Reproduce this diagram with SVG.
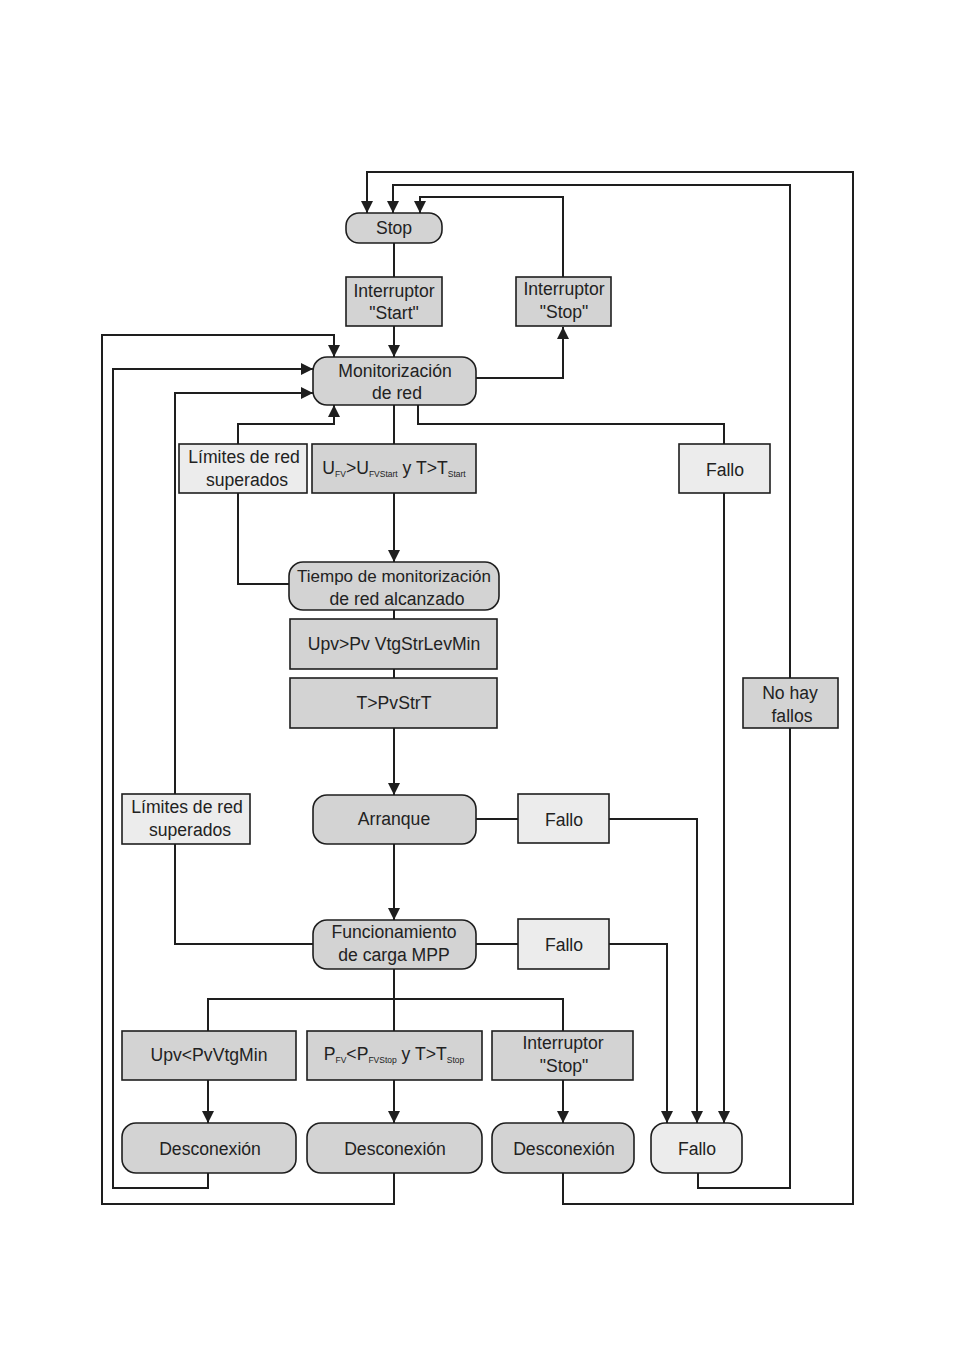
<svg xmlns="http://www.w3.org/2000/svg" width="954" height="1351" viewBox="0 0 954 1351">
<style>
.c{fill:none;stroke:#1e1e1e;stroke-width:2}
.d{fill:#d3d3d3;stroke:#1e1e1e;stroke-width:1.6}
.l{fill:#ececec;stroke:#1e1e1e;stroke-width:1.6}
text{font-family:"Liberation Sans",Arial,sans-serif;font-size:17.6px;fill:#222;text-anchor:middle}
.s{font-size:8.5px}
.n{font-size:17px}
</style>
<defs>
<marker id="a" markerUnits="userSpaceOnUse" markerWidth="12" markerHeight="12" viewBox="0 0 12 12" refX="12" refY="6" orient="auto">
<path d="M0,0 L12,6 L0,12 Z" fill="#1e1e1e"/>
</marker>
</defs>
<rect width="954" height="1351" fill="#fff"/>
<g id="connectors">
<path class="c" d="M698,1173 V1188 H790 V185 H393 V213" marker-end="url(#a)"/>
<path class="c" d="M563,1173 V1204 H853 V172 H367 V213" marker-end="url(#a)"/>
<path class="c" d="M563,277 V197 H420 V213" marker-end="url(#a)"/>
<path class="c" d="M476,378 H563 V327" marker-end="url(#a)"/>
<path class="c" d="M394,243 V277"/>
<path class="c" d="M394,326 V357" marker-end="url(#a)"/>
<path class="c" d="M394,1173 V1204 H102 V335 H334 V357" marker-end="url(#a)"/>
<path class="c" d="M208,1173 V1188 H113 V369 H313" marker-end="url(#a)"/>
<path class="c" d="M313,944 H175 V393 H313" marker-end="url(#a)"/>
<path class="c" d="M289,584 H238 V424 H334 V405" marker-end="url(#a)"/>
<path class="c" d="M394,405 V444"/>
<path class="c" d="M394,493 V562" marker-end="url(#a)"/>
<path class="c" d="M418,405 V424 H724 V1123" marker-end="url(#a)"/>
<path class="c" d="M394,610 V619 M394,669 V678"/>
<path class="c" d="M394,728 V795" marker-end="url(#a)"/>
<path class="c" d="M476,819 H697 V1123" marker-end="url(#a)"/>
<path class="c" d="M394,844 V920" marker-end="url(#a)"/>
<path class="c" d="M476,944 H667 V1123" marker-end="url(#a)"/>
<path class="c" d="M394,969 V1031 M208,1031 V999 H563 V1031"/>
<path class="c" d="M208,1080 V1123" marker-end="url(#a)"/>
<path class="c" d="M394,1080 V1123" marker-end="url(#a)"/>
<path class="c" d="M563,1080 V1123" marker-end="url(#a)"/>
</g>
<g id="stop"><rect class="d" x="346" y="213" width="96" height="30" rx="13"/><text x="394" y="234">Stop</text></g>
<g id="int-start"><rect class="d" x="346" y="277" width="96" height="49"/><text x="394" y="297">Interruptor</text><text x="394" y="319">"Start"</text></g>
<g id="int-stop1"><rect class="d" x="516" y="277" width="95" height="49"/><text x="564" y="295">Interruptor</text><text x="564" y="318">"Stop"</text></g>
<g id="monitorizacion"><rect class="d" x="313" y="357" width="163" height="48" rx="14"/><text x="395" y="377">Monitorización</text><text x="397" y="399">de red</text></g>
<g id="limites1"><rect class="l" x="179" y="444" width="128" height="49"/><text x="244" y="463">Límites de red</text><text x="247" y="486">superados</text></g>
<g id="cond-start"><rect class="d" x="312" y="444" width="164" height="49"/><text x="394" y="474">U<tspan class="s" dy="3">FV</tspan><tspan dy="-3">&gt;U</tspan><tspan class="s" dy="3">FVStart</tspan><tspan dy="-3"> y T&gt;T</tspan><tspan class="s" dy="3">Start</tspan></text></g>
<g id="fallo1"><rect class="l" x="679" y="444" width="91" height="49"/><text x="725" y="476">Fallo</text></g>
<g id="tiempo"><rect class="d" x="289" y="562" width="210" height="48" rx="14"/><text class="n" x="394" y="582">Tiempo de monitorización</text><text x="397" y="605">de red alcanzado</text></g>
<g id="upv-strlev"><rect class="d" x="290" y="619" width="207" height="50"/><text x="394" y="650">Upv&gt;Pv VtgStrLevMin</text></g>
<g id="t-pvstrt"><rect class="d" x="290" y="678" width="207" height="50"/><text x="394" y="709">T&gt;PvStrT</text></g>
<g id="no-hay-fallos"><rect class="d" x="743" y="678" width="95" height="50"/><text x="790" y="699">No hay</text><text x="792" y="722">fallos</text></g>
<g id="limites2"><rect class="l" x="122" y="794" width="128" height="50"/><text x="187" y="813">Límites de red</text><text x="190" y="836">superados</text></g>
<g id="arranque"><rect class="d" x="313" y="795" width="163" height="49" rx="14"/><text x="394" y="825">Arranque</text></g>
<g id="fallo2"><rect class="l" x="518" y="794" width="91" height="49"/><text x="564" y="826">Fallo</text></g>
<g id="funcionamiento"><rect class="d" x="313" y="920" width="163" height="49" rx="14"/><text x="394" y="938">Funcionamiento</text><text x="394" y="961">de carga MPP</text></g>
<g id="fallo3"><rect class="l" x="518" y="919" width="91" height="50"/><text x="564" y="951">Fallo</text></g>
<g id="upv-min"><rect class="d" x="122" y="1031" width="174" height="49"/><text x="209" y="1061">Upv&lt;PvVtgMin</text></g>
<g id="cond-stop"><rect class="d" x="307" y="1031" width="175" height="49"/><text x="394" y="1060">P<tspan class="s" dy="3">FV</tspan><tspan dy="-3">&lt;P</tspan><tspan class="s" dy="3">FVStop</tspan><tspan dy="-3"> y T&gt;T</tspan><tspan class="s" dy="3">Stop</tspan></text></g>
<g id="int-stop2"><rect class="d" x="492" y="1031" width="141" height="49"/><text x="563" y="1049">Interruptor</text><text x="564" y="1072">"Stop"</text></g>
<g id="desc1"><rect class="d" x="122" y="1123" width="174" height="50" rx="14"/><text x="210" y="1155">Desconexión</text></g>
<g id="desc2"><rect class="d" x="307" y="1123" width="175" height="50" rx="14"/><text x="395" y="1155">Desconexión</text></g>
<g id="desc3"><rect class="d" x="492" y="1123" width="142" height="50" rx="14"/><text x="564" y="1155">Desconexión</text></g>
<g id="fallo-final"><rect class="l" x="651" y="1123" width="91" height="50" rx="14"/><text x="697" y="1155">Fallo</text></g>
</svg>
